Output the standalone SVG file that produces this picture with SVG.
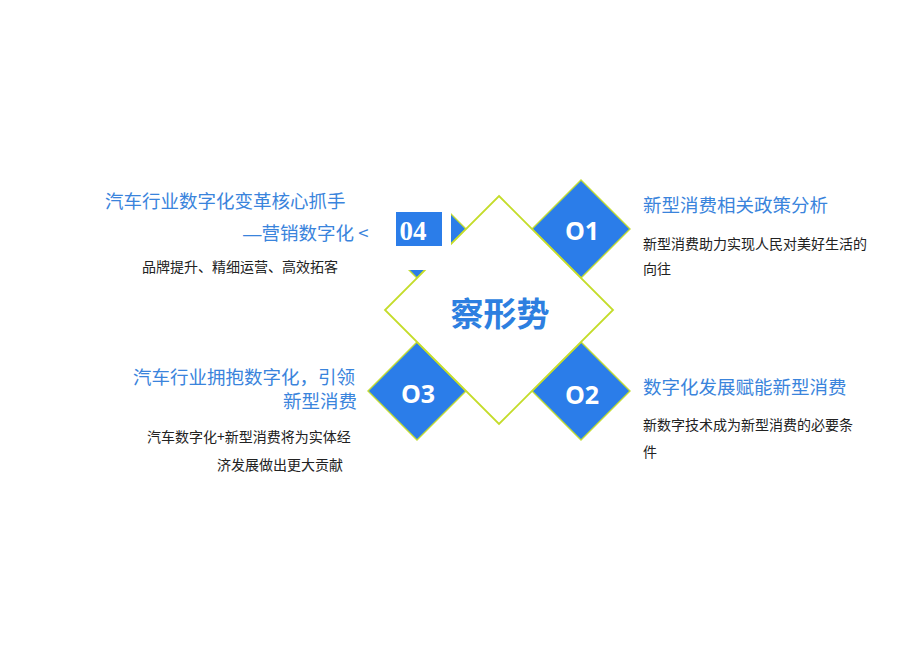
<svg xmlns="http://www.w3.org/2000/svg" width="920" height="651" viewBox="0 0 920 651">
<style>
.bd{fill:#2b7de9;stroke:#c2dc34;stroke-width:1.4}
.wd{fill:#ffffff;stroke:#c4dc2a;stroke-width:1.8}
.num{font-family:"Open Sans","Liberation Sans",sans-serif;font-weight:700;font-size:25px;fill:#ffffff;text-anchor:middle}
.t{font-family:"Noto Sans CJK SC","Noto Sans",sans-serif;font-size:18.5px;fill:#3a84dc}
.s{font-family:"Noto Sans CJK SC","Noto Sans",sans-serif;font-size:14px;fill:#222222}
</style>
<rect x="0" y="0" width="920" height="651" fill="#ffffff"/>
<g id="node-o1">
<polygon class="bd" points="581,180 630,229 581,278 532,229"/>
<text class="num" x="582" y="240">O1</text>
</g>
<g id="node-o2">
<polygon class="bd" points="581,342 630,391 581,440 532,391"/>
<text class="num" x="582" y="404">O2</text>
</g>
<g id="node-o3">
<polygon class="bd" points="417,342 466,391 417,440 368,391"/>
<text class="num" x="418" y="403">O3</text>
</g>
<g id="node-o4">
<polygon class="bd" points="417,180 466,229 417,278 368,229"/>
</g>
<g id="node-center">
<polygon class="wd" points="499,196 613,310 499,424 385,310"/>
<text x="500" y="326" text-anchor="middle" font-family="'Noto Sans CJK SC','Noto Sans',sans-serif" font-weight="700" font-size="33" fill="#2d7fe0">察形势</text>
</g>
<g id="node-04-label">
<rect x="364" y="176" width="87" height="94" fill="#ffffff"/>
<rect x="396" y="212" width="46" height="34" fill="#2b7de9"/>
<text x="413" y="240" text-anchor="middle" font-family="'Liberation Serif','DejaVu Serif',serif" font-weight="700" font-size="27" fill="#ffffff">04</text>
</g>
<g id="text-04">
<text class="t" x="105" y="208">汽车行业数字化变革核心抓手</text>
<text class="t" x="243" y="240"><tspan font-family="'Liberation Sans',sans-serif">—</tspan>营销数字化 &lt;</text>
<text class="s" x="142" y="272">品牌提升、精细运营、高效拓客</text>
</g>
<g id="text-03">
<text class="t" x="133" y="384">汽车行业拥抱数字化，引领</text>
<text class="t" x="283" y="408">新型消费</text>
<text class="s" x="147" y="442">汽车数字化+新型消费将为实体经</text>
<text class="s" x="217" y="470">济发展做出更大贡献</text>
</g>
<g id="text-01">
<text class="t" x="643" y="212">新型消费相关政策分析</text>
<text class="s" x="643" y="249">新型消费助力实现人民对美好生活的</text>
<text class="s" x="643" y="274">向往</text>
</g>
<g id="text-02">
<text class="t" x="643" y="394">数字化发展赋能新型消费</text>
<text class="s" x="643" y="430">新数字技术成为新型消费的必要条</text>
<text class="s" x="643" y="457">件</text>
</g>
<g id="connectors"/>
</svg>
